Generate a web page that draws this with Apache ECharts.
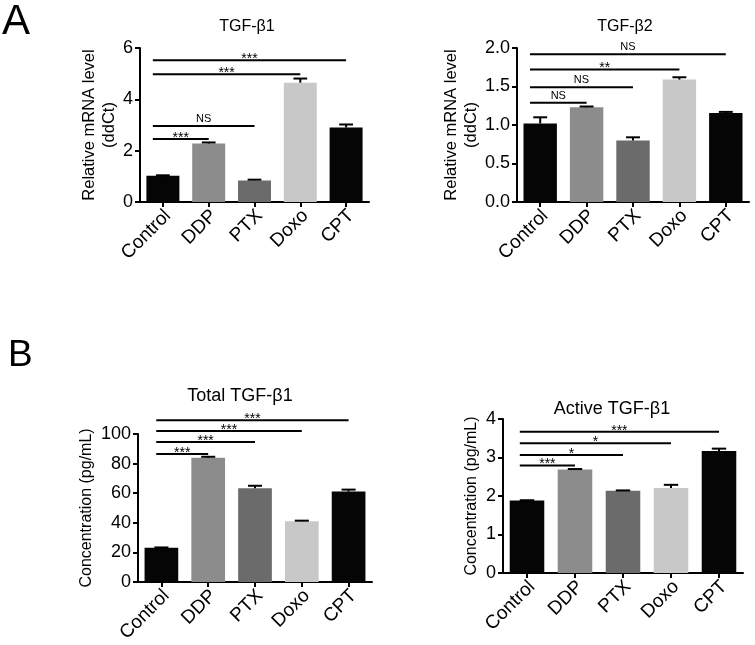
<!DOCTYPE html>
<html><head><meta charset="utf-8">
<script src="https://cdn.jsdelivr.net/npm/echarts@6/dist/echarts.min.js"></script>
<style>html,body{margin:0;padding:0;background:#fff}#c{width:755px;height:645px}</style>
</head><body><div id="c"></div>
<script>
const categories = ['Control', 'DDP', 'PTX', 'Doxo', 'CPT'];
const barColors = ['#050505', '#8c8c8c', '#6b6b6b', '#c8c8c8', '#050505'];

// Panel A1: TGF-β1 mRNA
const a1Mean = [1.02, 2.28, 0.84, 4.65, 2.90];
const a1Err  = [1.04, 2.32, 0.87, 4.81, 3.02];
const a1Sig  = [[1, 2.45, '***'], [2, 2.96, 'NS'], [3, 4.98, '***'], [4, 5.52, '***']];
const a1Ticks = [0, 2, 4, 6];

// Panel A2: TGF-β2 mRNA
const a2Mean = [1.02, 1.23, 0.80, 1.59, 1.155];
const a2Err  = [1.10, 1.24, 0.84, 1.62, 1.17];
const a2Sig  = [[1, 1.29, 'NS'], [2, 1.49, 'NS'], [3, 1.72, '**'], [4, 1.92, 'NS']];
const a2Ticks = ['0.0', '0.5', '1.0', '1.5', '2.0'];

// Panel B1: Total TGF-β1
const b1Mean = [23.1, 84.0, 63.3, 41.0, 61.1];
const b1Err  = [23.3, 84.6, 65.0, 41.4, 62.4];
const b1Sig  = [[1, 86.4, '***'], [2, 94.6, '***'], [3, 102.1, '***'], [4, 109.3, '***']];
const b1Ticks = [0, 20, 40, 60, 80, 100];

// Panel B2: Active TGF-β1
const b2Mean = [1.885, 2.69, 2.135, 2.21, 3.17];
const b2Err  = [1.89, 2.70, 2.145, 2.29, 3.23];
const b2Sig  = [[1, 2.79, '***'], [2, 3.065, '*'], [3, 3.37, '*'], [4, 3.67, '***']];
const b2Ticks = [0, 1, 2, 3, 4];

const FONT = 'Liberation Sans, Arial, sans-serif';

const panels = [
  {mean: a1Mean, err: a1Err, sig: a1Sig, ticks: a1Ticks, grid: {left: 140, top: 48, width: 229, height: 154},
   yName: 'Relative mRNA level\n(ddCt)', nameGap: 19, nameSize: 16.5, sigStart: -0.22},
  {mean: a2Mean, err: a2Err, sig: a2Sig, ticks: a2Ticks, grid: {left: 517, top: 48, width: 232, height: 154},
   yName: 'Relative mRNA level\n(ddCt)', nameGap: 28, nameSize: 16.5, sigStart: -0.22},
  {mean: b1Mean, err: b1Err, sig: b1Sig, ticks: b1Ticks, grid: {left: 138, top: 434, width: 234, height: 154},
   yName: 'Concentration (pg/mL)', nameGap: 35, nameSize: 16, sigStart: -0.11},
  {mean: b2Mean, err: b2Err, sig: b2Sig, ticks: b2Ticks, grid: {left: 503, top: 419, width: 240, height: 154},
   yName: 'Concentration (pg/mL)', nameGap: 14, nameSize: 16, sigStart: -0.15}
];

const option = {
  animation: false,
  backgroundColor: '#fff',
  textStyle: {fontFamily: FONT},
  grid: [], xAxis: [], yAxis: [], series: [],
  graphic: [
    {type: 'text', left: 2, top: 1, style: {text: 'A', font: '42px ' + FONT, fill: '#000'}},
    {type: 'text', left: 8, top: 337, style: {text: 'B', font: '37px ' + FONT, fill: '#000'}},
    {type: 'text', x: 247, y: 27, style: {text: 'TGF-β1', font: '16px ' + FONT, fill: '#000', align: 'center', verticalAlign: 'middle'}},
    {type: 'text', x: 625, y: 27, style: {text: 'TGF-β2', font: '16px ' + FONT, fill: '#000', align: 'center', verticalAlign: 'middle'}},
    {type: 'text', x: 240, y: 396, style: {text: 'Total TGF-β1', font: '18px ' + FONT, fill: '#000', align: 'center', verticalAlign: 'middle'}},
    {type: 'text', x: 612, y: 409, style: {text: 'Active TGF-β1', font: '18px ' + FONT, fill: '#000', align: 'center', verticalAlign: 'middle'}}
  ]
};

panels.forEach((p, i) => {
  const tickNums = p.ticks.map(Number);
  const yMin = tickNums[0], yMax = tickNums[tickNums.length - 1];
  const interval = tickNums[1] - tickNums[0];
  option.grid.push(Object.assign({containLabel: false}, p.grid));
  option.xAxis.push({
    type: 'category', gridIndex: i, data: categories,
    axisLine: {lineStyle: {color: '#000', width: 2}},
    axisTick: {show: true, alignWithLabel: true, length: 5, lineStyle: {color: '#000', width: 2}},
    axisLabel: {rotate: 45, fontSize: 19, color: '#000', margin: 6, fontFamily: FONT, interval: 0,
      verticalAlign: 'top', lineHeight: 14}
  });
  option.yAxis.push({
    type: 'value', gridIndex: i, min: yMin, max: yMax, interval: interval,
    name: p.yName, nameLocation: 'middle', nameGap: p.nameGap, nameRotate: 90,
    nameTextStyle: {fontSize: p.nameSize, color: '#000', fontFamily: FONT, lineHeight: 20},
    splitLine: {show: false},
    axisLine: {show: true, lineStyle: {color: '#000', width: 2}},
    axisTick: {show: true, length: 5, lineStyle: {color: '#000', width: 2}},
    axisLabel: {fontSize: 18, color: '#000', margin: 7, fontFamily: FONT,
      formatter: v => { const k = tickNums.indexOf(v); return k >= 0 ? String(p.ticks[k]) : ''; }}
  });
  option.series.push({
    type: 'bar', xAxisIndex: i, yAxisIndex: i, barWidth: '72%',
    data: p.mean.map((v, k) => ({value: v, itemStyle: {color: barColors[k]}}))
  });
  // error bars (upper only)
  option.series.push({
    type: 'custom', xAxisIndex: i, yAxisIndex: i, z: 3,
    data: p.mean.map((v, k) => [k, v, p.err[k]]),
    encode: {x: 0, y: [1, 2]},
    renderItem: (params, api) => {
      const base = api.coord([api.value(0), api.value(1)]);
      const top = api.coord([api.value(0), api.value(2)]);
      const half = api.size([1, 0])[0] * 0.15;
      return {type: 'group', children: [
        {type: 'line', shape: {x1: base[0], y1: base[1], x2: top[0], y2: top[1]}, style: {stroke: '#000', lineWidth: 2}},
        {type: 'line', shape: {x1: top[0] - half, y1: top[1], x2: top[0] + half, y2: top[1]}, style: {stroke: '#000', lineWidth: 2}}
      ]};
    }
  });
  // significance lines
  option.series.push({
    type: 'custom', xAxisIndex: i, yAxisIndex: i, z: 4, clip: false,
    data: p.sig.map(s => [s[0], s[1]]),
    encode: {x: 0, y: 1},
    renderItem: (params, api) => {
      const band = api.size([1, 0])[0];
      const a = api.coord([0, api.value(1)]);
      const b = api.coord([api.value(0), api.value(1)]);
      const x1 = a[0] + p.sigStart * band;
      const label = p.sig[params.dataIndex][2];
      const isStar = label.indexOf('*') >= 0;
      return {type: 'group', children: [
        {type: 'line', shape: {x1: x1, y1: a[1], x2: b[0], y2: b[1]}, style: {stroke: '#000', lineWidth: 2}},
        {type: 'text', x: (x1 + b[0]) / 2, y: a[1] + (isStar ? -1 : -7),
          style: {text: label, font: (isStar ? '14px ' : '11px ') + FONT, fill: '#000', align: 'center', verticalAlign: 'middle'}}
      ]};
    }
  });
});

const chart = echarts.init(document.getElementById('c'), null, {renderer: 'canvas'});
chart.setOption(option);
</script>
</body></html>
